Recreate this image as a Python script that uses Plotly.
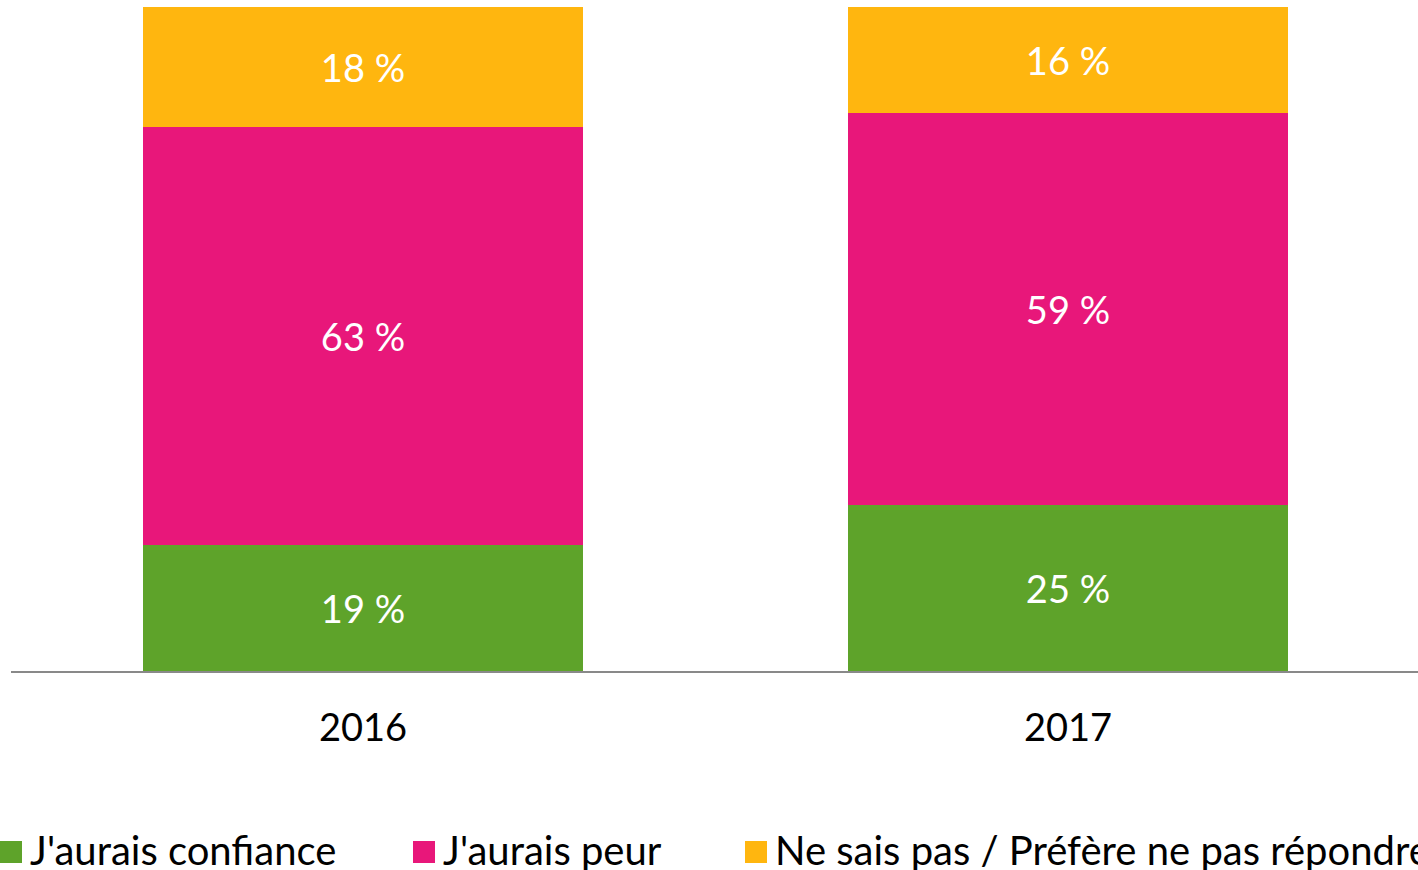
import plotly.graph_objects as go

years = ["2016", "2017"]
series_names = ["J'aurais confiance", "J'aurais peur", "Ne sais pas / Préfère ne pas répondre"]
confiance = [19, 25]
peur = [63, 59]
ne_sais_pas = [18, 16]
colors = ["#5EA32A", "#E8177A", "#FFB60F"]

FONT = "Lato"
FS = 38
LEG_FS = 40

fig = go.Figure()
for name, vals, col in zip(series_names, [confiance, peur, ne_sais_pas], colors):
    fig.add_trace(go.Bar(
        x=[0, 1], y=vals, name=name, width=0.624,
        marker=dict(color=col, line=dict(width=0)),
        text=[f"{v} %" for v in vals], textposition="inside", insidetextanchor="middle",
        textfont=dict(color="white", size=FS, family=FONT), showlegend=False,
        textangle=0,
    ))

W, H = 1418, 870
L, R, T, B = 11, 0, 7, 199
pw, ph = W - L - R, H - T - B

def px2x(p):
    return (p - L) / pw

def py2y(p):
    return (H - B - p) / ph

# manual legend
leg_marker_x = [0, 413, 745]
for name, col, mx in zip(series_names, colors, leg_marker_x):
    fig.add_shape(type="rect", xref="paper", yref="paper",
                  x0=px2x(mx), x1=px2x(mx + 22), y0=py2y(863), y1=py2y(841),
                  fillcolor=col, line=dict(width=0))
    fig.add_annotation(xref="paper", yref="paper", x=px2x(mx + 28), y=py2y(850),
                       xanchor="left", yanchor="middle", text=name, showarrow=False,
                       font=dict(size=LEG_FS, family=FONT, color="black"))

fig.update_layout(
    width=W, height=H, barmode="stack",
    margin=dict(l=L, r=R, t=T, b=B, autoexpand=False),
    plot_bgcolor="white", paper_bgcolor="white",
    font=dict(family=FONT, size=FS, color="black"),
    uniformtext=dict(mode=False),
)
fig.update_xaxes(showline=True, linecolor="#898989", linewidth=2, ticks="",
                 tickmode="array", tickvals=[0, 1], ticktext=years,
                 range=[-0.4993, 1.4965],
                 tickfont=dict(size=FS, family=FONT, color="black"), ticklabelstandoff=22)
fig.update_yaxes(range=[0, 100], visible=False, showgrid=False)

fig.write_html("out.html", config={"displayModeBar": False},
               post_script="document.body.style.margin='0';document.body.style.overflow='hidden';")
